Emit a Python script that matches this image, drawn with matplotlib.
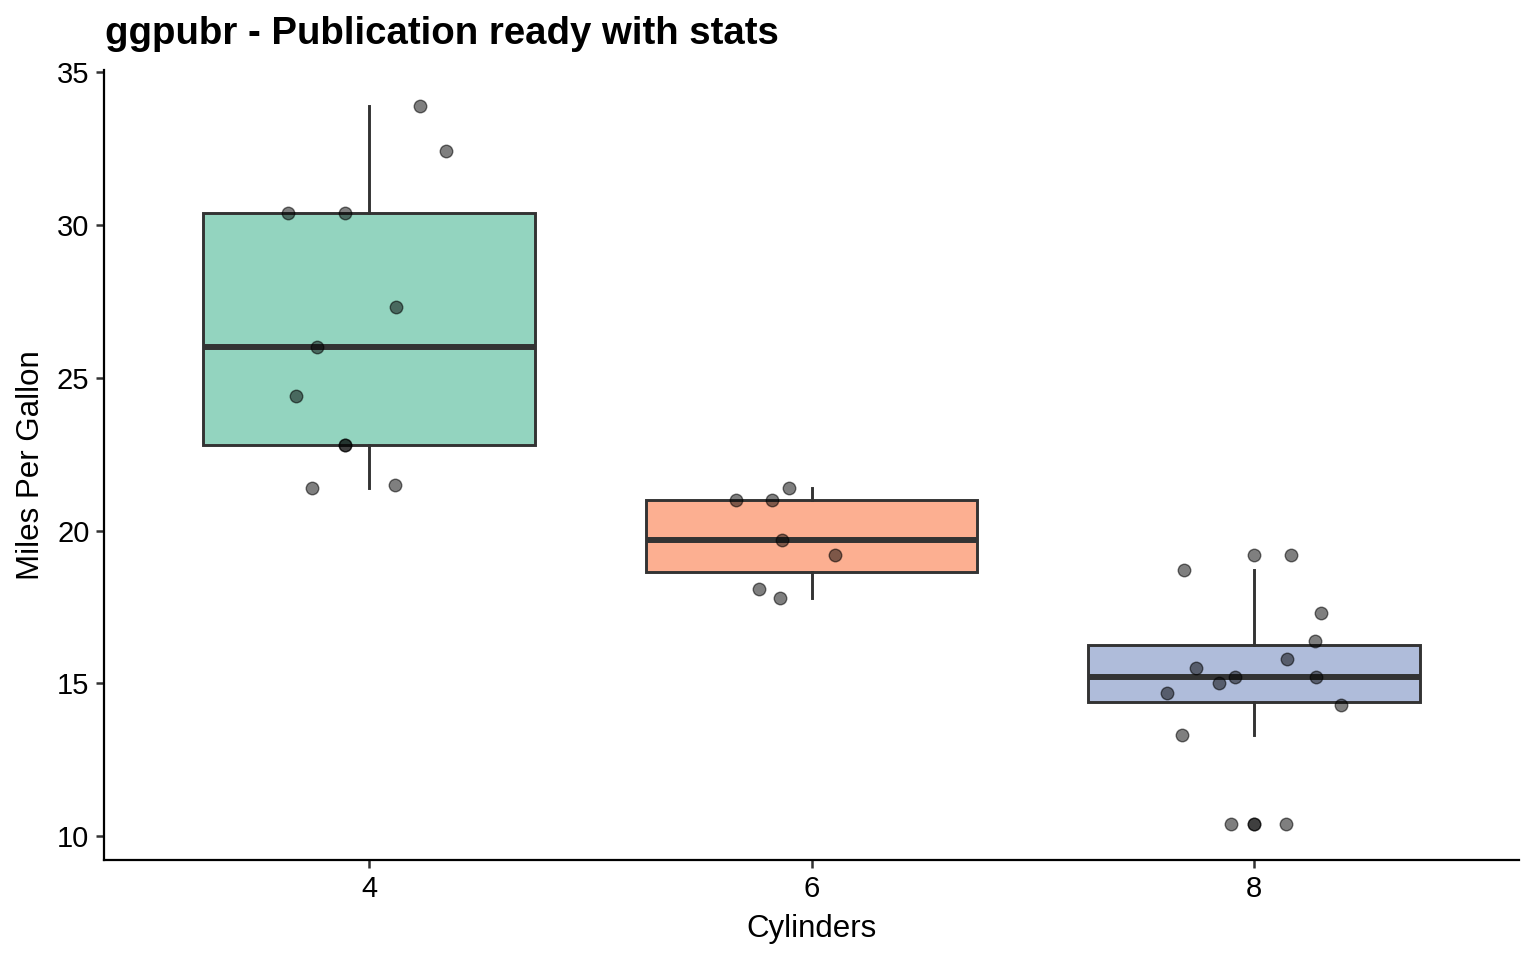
import matplotlib
matplotlib.use("Agg")
import matplotlib.pyplot as plt
import numpy as np

plt.rcParams['font.family'] = ['Liberation Sans', 'DejaVu Sans']

categories = ["4", "6", "8"]
mpg_4 = [33.9, 32.4, 30.4, 30.4, 27.3, 26.0, 24.4, 22.8, 22.8, 21.4, 21.5]
jit_4 = [0.115, 0.174, -0.183, -0.054, 0.061, -0.118, -0.165, -0.054, -0.054, -0.129, 0.057]
mpg_6 = [21.0, 21.0, 21.4, 19.7, 19.2, 18.1, 17.8]
jit_6 = [-0.170, -0.090, -0.052, -0.066, 0.054, -0.118, -0.072]
mpg_8 = [19.2, 18.7, 17.3, 16.4, 15.8, 15.5, 15.2, 15.2, 15.0, 14.7, 14.3, 13.3, 10.4, 10.4]
jit_8 = [0.084, -0.158, 0.152, 0.138, 0.075, -0.131, -0.043, 0.140, -0.079, -0.197, 0.197, -0.161, -0.052, 0.072]
fills = ["#66C2A5", "#FC8D62", "#8DA0CB"]

groups = [mpg_4, mpg_6, mpg_8]
jitters = [jit_4, jit_6, jit_8]

fig = plt.figure(figsize=(15.36, 9.6), dpi=100)
ax = fig.add_axes([104/1536, 1-860/960, (1519-104)/1536, (860-69.7)/960])

pos = np.arange(len(categories))
edge = "#333333"
bp = ax.boxplot(groups, positions=pos, widths=0.75, patch_artist=True, whis=1.5,
                medianprops=dict(color=edge, linewidth=4.3, solid_capstyle='butt'),
                boxprops=dict(edgecolor=edge, linewidth=2.1),
                whiskerprops=dict(color=edge, linewidth=2.1),
                capprops=dict(linewidth=0),
                flierprops=dict(marker='o', markersize=9, markerfacecolor=(0, 0, 0, 0.5),
                                markeredgecolor=(0, 0, 0, 0.55), markeredgewidth=1.0),
                zorder=2)
for patch, c in zip(bp['boxes'], fills):
    r, g, b = matplotlib.colors.to_rgb(c)
    patch.set_facecolor((r, g, b, 0.7))
for cap in bp['caps']:
    cap.set_visible(False)

for i, (vals, jit) in enumerate(zip(groups, jitters)):
    xs = [i + j for j in jit]
    ax.scatter(xs, vals, s=81, facecolor=(0, 0, 0, 0.5), edgecolor=(0, 0, 0, 0.55),
               linewidth=1.0, zorder=3)

ax.set_xlim(-0.6, 2.6)
ax.set_ylim(9.225, 35.075)
ax.set_xticks(pos)
ax.set_xticklabels(categories)
ax.set_yticks([10, 15, 20, 25, 30, 35])
for s in ['top', 'right']:
    ax.spines[s].set_visible(False)
for s in ['left', 'bottom']:
    ax.spines[s].set_linewidth(1.6)
ax.tick_params(axis='both', direction='out', length=5.5, width=1.8, labelsize=21,
               color='#333333', labelcolor='black', pad=5)
ax.set_xlabel("Cylinders", fontsize=22.5, labelpad=8)
ax.set_ylabel("Miles Per Gallon", fontsize=22.5, labelpad=8)
fig.text(105/1536, 1-44/960, "ggpubr - Publication ready with stats", fontsize=27.6,
         fontweight='bold', ha='left', va='baseline')

fig.savefig("out.png", dpi=100)
